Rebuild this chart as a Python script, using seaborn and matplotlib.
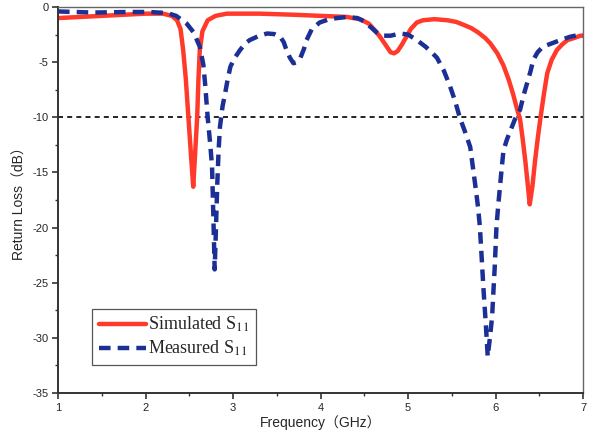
import numpy as np
import pandas as pd
import seaborn as sns
import matplotlib
matplotlib.use("Agg")
import matplotlib.pyplot as plt
from matplotlib.ticker import MultipleLocator

# values
sim_freq = [1.0, 1.5, 2.0, 2.2, 2.3, 2.36, 2.4, 2.43, 2.46, 2.49, 2.52, 2.545, 2.565,
            2.59, 2.605, 2.62, 2.65, 2.71, 2.8, 2.93, 3.3, 3.7, 4.0, 4.3, 4.45,
            4.55, 4.62, 4.68, 4.74, 4.8, 4.84, 4.88, 4.93, 4.98, 5.03, 5.1, 5.17,
            5.3, 5.45, 5.55, 5.63, 5.72, 5.8, 5.88, 5.94, 6.02, 6.09, 6.15, 6.2,
            6.24, 6.28, 6.31, 6.34, 6.37, 6.39, 6.42, 6.45, 6.48, 6.51, 6.55,
            6.59, 6.64, 6.7, 6.76, 6.82, 6.9, 6.97, 7.0]
sim_s11 = [-1.0, -0.8, -0.6, -0.6, -0.8, -1.2, -2.0, -3.9, -6.5, -10.0, -13.5, -16.3, -13.5,
           -10.0, -6.5, -3.9, -2.2, -1.2, -0.8, -0.6, -0.6, -0.7, -0.8, -0.9, -1.1,
           -1.5, -2.1, -2.7, -3.4, -4.1, -4.2, -4.0, -3.4, -2.7, -2.0, -1.4, -1.2,
           -1.1, -1.2, -1.35, -1.6, -1.9, -2.3, -2.8, -3.3, -4.2, -5.3, -6.6, -7.9,
           -9.1, -10.2, -12.0, -14.0, -16.3, -17.9, -16.3, -14.0, -12.0, -10.2, -8.0,
           -6.0, -4.8, -3.9, -3.4, -3.0, -2.8, -2.6, -2.6]

meas_freq = [1.0, 1.4, 1.8, 2.05, 2.25, 2.35, 2.47, 2.55, 2.62, 2.66, 2.68, 2.71,
             2.74, 2.76, 2.775, 2.79, 2.805, 2.82, 2.835, 2.85, 2.88, 2.91, 2.94,
             2.97, 3.02, 3.08, 3.14, 3.19, 3.3, 3.39, 3.47, 3.54, 3.58, 3.61, 3.65,
             3.69, 3.73, 3.77, 3.81, 3.84, 3.9, 3.99, 4.1, 4.19, 4.3, 4.42, 4.5,
             4.57, 4.64, 4.71, 4.8, 4.91, 5.0, 5.1, 5.2, 5.28, 5.33, 5.41, 5.48,
             5.54, 5.59, 5.65, 5.71, 5.74, 5.77, 5.8, 5.82, 5.84, 5.86, 5.875,
             5.89, 5.91, 5.935, 5.96, 5.975, 5.99, 6.01, 6.03, 6.05, 6.07, 6.09,
             6.13, 6.17, 6.22, 6.28, 6.32, 6.36, 6.4, 6.43, 6.48, 6.54, 6.64,
             6.74, 6.85, 6.97, 7.0]
meas_s11 = [-0.4, -0.5, -0.45, -0.45, -0.55, -0.8, -1.5, -2.3, -3.6, -5.2, -6.9, -10.0,
            -12.5, -14.5, -19.0, -23.8, -20.0, -16.0, -13.0, -10.9, -9.0, -7.8, -6.5,
            -5.4, -4.6, -3.9, -3.3, -3.0, -2.6, -2.4, -2.45, -2.7, -3.2, -3.9, -4.6,
            -5.1, -5.0, -4.6, -3.8, -3.0, -2.0, -1.4, -1.1, -1.0, -0.9, -1.0, -1.3,
            -1.8, -2.3, -2.6, -2.6, -2.4, -2.5, -3.0, -3.6, -4.2, -4.6, -5.8, -7.2,
            -8.6, -10.0, -11.3, -12.7, -14.5, -16.3, -18.2, -19.9, -22.6, -25.4, -27.2,
            -29.0, -31.7, -30.0, -28.1, -25.8, -23.6, -19.9, -18.0, -16.3, -14.6, -13.0,
            -12.0, -11.2, -10.2, -9.3, -8.0, -6.9, -5.8, -4.8, -4.1, -3.6, -3.3,
            -3.0, -2.7, -2.5, -2.5]

ref_level = -10

sim = pd.DataFrame({"freq": sim_freq, "s11": sim_s11})
meas = pd.DataFrame({"freq": meas_freq, "s11": meas_s11})

sns.set_theme(style="white")
plt.rcParams["font.family"] = ["Liberation Sans", "Noto Sans CJK SC", "DejaVu Sans"]
plt.rcParams["mathtext.fontset"] = "stix"
plt.rcParams["axes.unicode_minus"] = False

fig = plt.figure(figsize=(5.92, 4.40), dpi=100)
ax = fig.add_axes([0.098, 0.107, 0.887, 0.877])

ax.axhline(ref_level, color="black", lw=1.2, ls=(0, (3, 2.5)), zorder=1)
sns.lineplot(data=sim, x="freq", y="s11", ax=ax, color="#ff3a2a", lw=3.2,
             label="Simulated S$_{11}$", sort=False)
sns.lineplot(data=meas, x="freq", y="s11", ax=ax, color="#1c2f95", lw=3.2,
             label="Measured S$_{11}$", sort=False)
ax.lines[-1].set_linestyle((0, (2.6, 1.6)))
for ln in ax.lines:
    ln.set_solid_joinstyle("round")
    ln.set_dash_joinstyle("round")

ax.set_xlim(1, 7)
ax.set_ylim(-35, 0)
ax.xaxis.set_major_locator(MultipleLocator(1))
ax.xaxis.set_minor_locator(MultipleLocator(0.5))
ax.yaxis.set_major_locator(MultipleLocator(5))
ax.yaxis.set_minor_locator(MultipleLocator(2.5))
ax.tick_params(which="major", direction="out", length=4, width=1.2, color="#333333",
               labelsize=8, bottom=True, left=True, pad=3)
ax.tick_params(which="minor", direction="out", length=2.5, width=1.0, color="#333333",
               bottom=True, left=True)

for side in ["left", "bottom"]:
    ax.spines[side].set_color("#333333")
    ax.spines[side].set_linewidth(1.4)
for side in ["top", "right"]:
    ax.spines[side].set_color("#666666")
    ax.spines[side].set_linewidth(1.0)

ax.set_xlabel("Frequency（GHz）", fontsize=10, labelpad=2)
ax.set_ylabel("Return Loss（dB）", fontsize=10, labelpad=4)

leg = ax.legend(loc="lower left", bbox_to_anchor=(0.048, 0.05), fancybox=False,
                edgecolor="#555555", framealpha=1, handlelength=2.6,
                borderpad=0.35, labelspacing=0.25, handletextpad=0.15,
                prop={"family": "Liberation Serif", "size": 13})
leg.get_frame().set_linewidth(0.9)

fig.savefig("out.png", dpi=100)
